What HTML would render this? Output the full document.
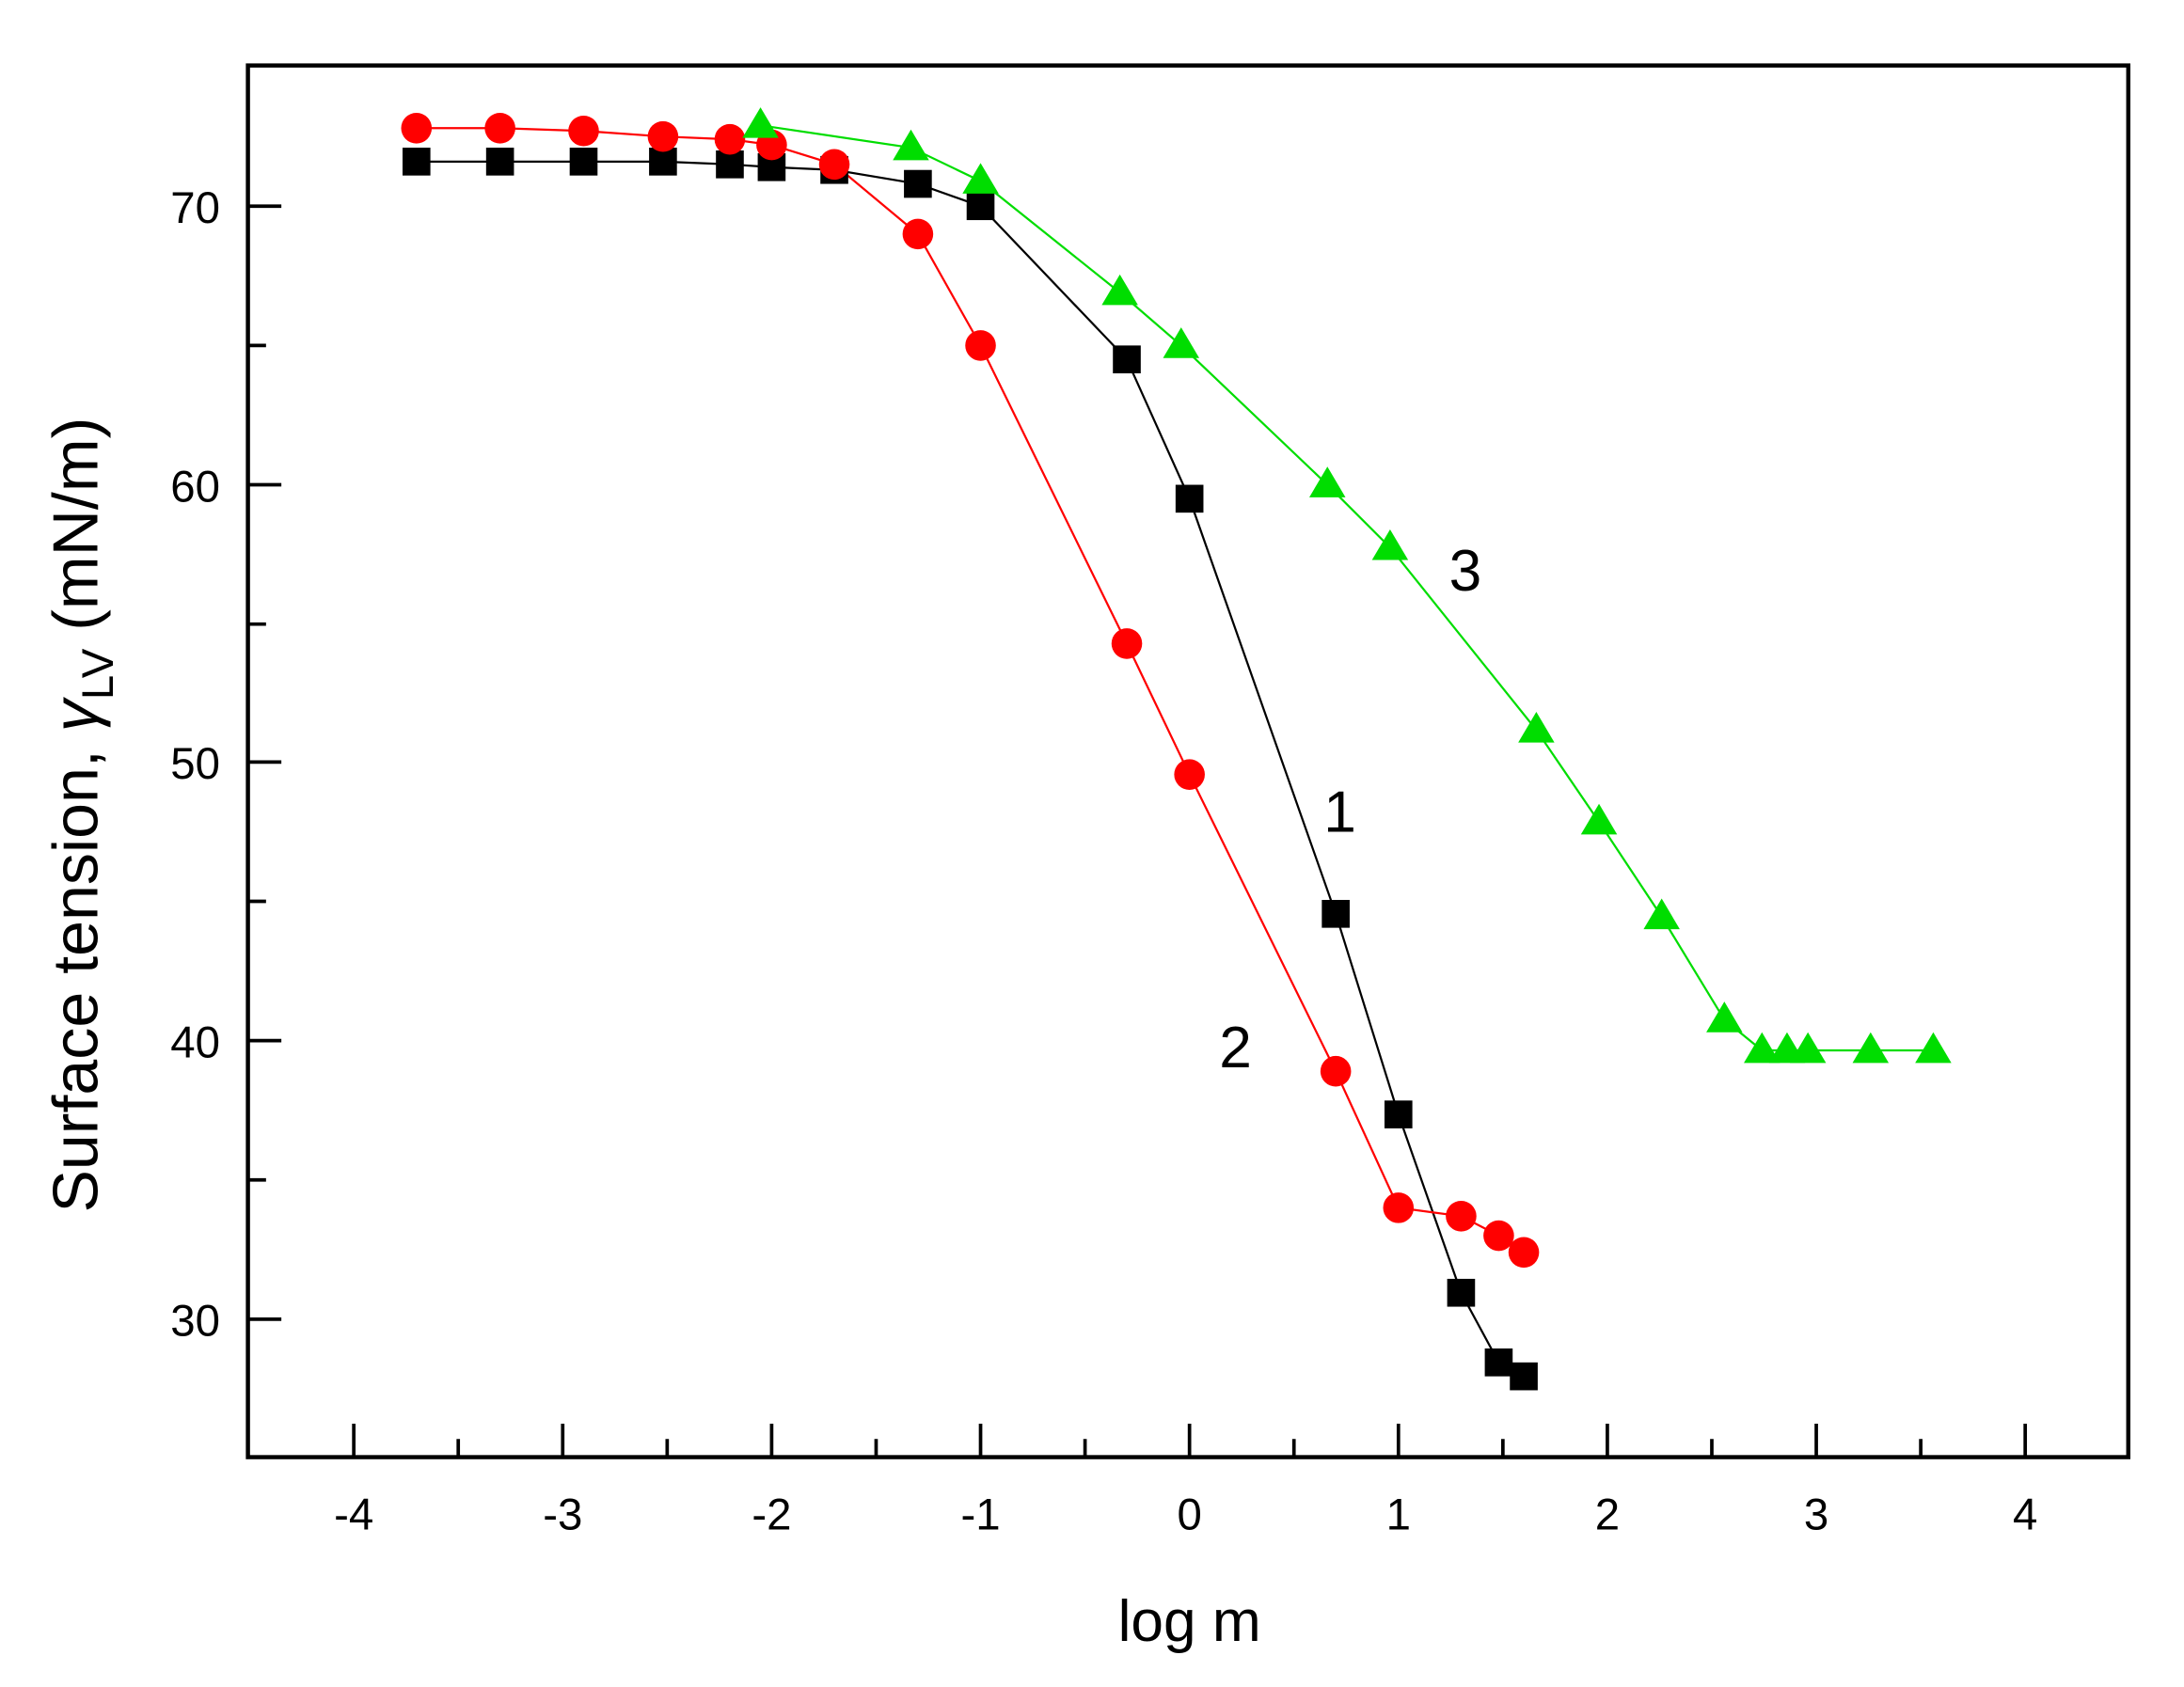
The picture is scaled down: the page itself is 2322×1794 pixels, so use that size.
<!DOCTYPE html>
<html><head><meta charset="utf-8"><style>
html,body{margin:0;padding:0;background:#fff;}
svg{display:block;}
</style></head><body>
<svg width="2322" height="1794" viewBox="0 0 1568 1211" preserveAspectRatio="none" xmlns="http://www.w3.org/2000/svg" font-family="Liberation Sans, Arial, sans-serif">
<rect width="1568" height="1211" fill="#fff"/>
<g stroke="#000" stroke-width="2.5">
<rect x="178" y="47" width="1350" height="999" fill="none" stroke-width="3"/>
<path d="M254 1046v-24M404 1046v-24M554 1046v-24M704 1046v-24M854 1046v-24M1004 1046v-24M1154 1046v-24M1304 1046v-24M1454 1046v-24"/>
<path d="M329 1046v-13M479 1046v-13M629 1046v-13M779 1046v-13M929 1046v-13M1079 1046v-13M1229 1046v-13M1379 1046v-13"/>
<path d="M178 148h24M178 348h24M178 547h24M178 747h24M178 947h24"/>
<path d="M178 248h13M178 448h13M178 647h13M178 847h13"/>
</g>
<g font-size="32" text-anchor="middle" fill="#000">
<text x="254" y="1098">-4</text><text x="404" y="1098">-3</text><text x="554" y="1098">-2</text><text x="704" y="1098">-1</text><text x="854" y="1098">0</text><text x="1004" y="1098">1</text><text x="1154" y="1098">2</text><text x="1304" y="1098">3</text><text x="1454" y="1098">4</text>
</g>
<g font-size="32" text-anchor="end" fill="#000">
<text x="158" y="160">70</text><text x="158" y="360">60</text><text x="158" y="559">50</text><text x="158" y="759">40</text><text x="158" y="959">30</text>
</g>
<text x="854" y="1178" font-size="42" text-anchor="middle">log m</text>
<text transform="translate(70,585) rotate(-90)" font-size="46" text-anchor="middle">Surface tension, <tspan font-style="italic">γ</tspan><tspan font-size="32" dy="11">LV</tspan><tspan dy="-11"> (mN/m)</tspan></text>
<text x="1052" y="424" font-size="42" text-anchor="middle">3</text>
<text x="962" y="597" font-size="42" text-anchor="middle">1</text>
<text x="887" y="766" font-size="42" text-anchor="middle">2</text>
<polyline fill="none" stroke="#000" stroke-width="1.5" points="299,116 359,116 419,116 476,116 524,118 554,120 599,122 659,132 704,148 809,258 854,358 959,656 1004,800 1049,928 1076,978 1094,988"/>
<polyline fill="none" stroke="#f00" stroke-width="1.5" points="299,92 359,92 419,94 476,98 524,100 554,104 599,118 659,168 704,248 809,462 854,556 959,769 1004,867 1049,873 1076,887 1094,899"/>
<polyline fill="none" stroke="#0d0" stroke-width="1.5" points="546,90 654,106 704,130 804,210 848,248 953,348 998,393 1103,524 1148,590 1193,658 1238,732 1265,754 1283,754 1298,754 1343,754 1388,754"/>
<g fill="#000">
<rect x="289" y="106" width="20" height="20"/><rect x="349" y="106" width="20" height="20"/><rect x="409" y="106" width="20" height="20"/><rect x="466" y="106" width="20" height="20"/><rect x="514" y="108" width="20" height="20"/><rect x="544" y="110" width="20" height="20"/><rect x="589" y="112" width="20" height="20"/><rect x="649" y="122" width="20" height="20"/><rect x="694" y="138" width="20" height="20"/><rect x="799" y="248" width="20" height="20"/><rect x="844" y="348" width="20" height="20"/><rect x="949" y="646" width="20" height="20"/><rect x="994" y="790" width="20" height="20"/><rect x="1039" y="918" width="20" height="20"/><rect x="1066" y="968" width="20" height="20"/><rect x="1084" y="978" width="20" height="20"/>
</g>
<g fill="#f00">
<circle cx="299" cy="92" r="11"/><circle cx="359" cy="92" r="11"/><circle cx="419" cy="94" r="11"/><circle cx="476" cy="98" r="11"/><circle cx="524" cy="100" r="11"/><circle cx="554" cy="104" r="11"/><circle cx="599" cy="118" r="11"/><circle cx="659" cy="168" r="11"/><circle cx="704" cy="248" r="11"/><circle cx="809" cy="462" r="11"/><circle cx="854" cy="556" r="11"/><circle cx="959" cy="769" r="11"/><circle cx="1004" cy="867" r="11"/><circle cx="1049" cy="873" r="11"/><circle cx="1076" cy="887" r="11"/><circle cx="1094" cy="899" r="11"/>
</g>
<g fill="#0d0">
<path d="M546,77l13,22h-26z"/><path d="M654,93l13,22h-26z"/><path d="M704,117l13,22h-26z"/><path d="M804,197l13,22h-26z"/><path d="M848,235l13,22h-26z"/><path d="M953,335l13,22h-26z"/><path d="M998,380l13,22h-26z"/><path d="M1103,511l13,22h-26z"/><path d="M1148,577l13,22h-26z"/><path d="M1193,645l13,22h-26z"/><path d="M1238,719l13,22h-26z"/><path d="M1265,741l13,22h-26z"/><path d="M1283,741l13,22h-26z"/><path d="M1298,741l13,22h-26z"/><path d="M1343,741l13,22h-26z"/><path d="M1388,741l13,22h-26z"/>
</g>
</svg>
</body></html>
